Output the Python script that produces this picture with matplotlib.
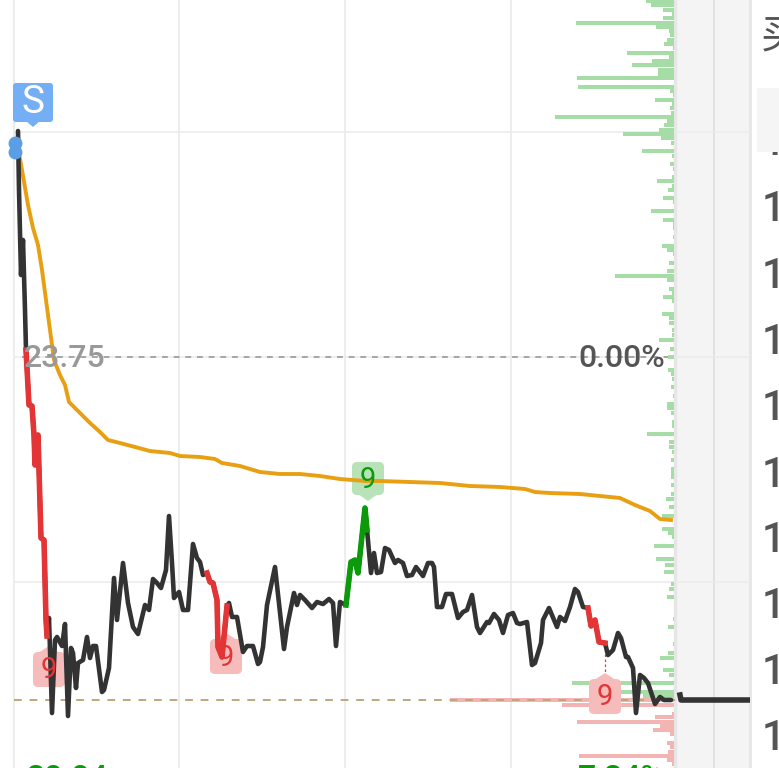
import matplotlib
matplotlib.use("Agg")
import matplotlib.pyplot as plt
from matplotlib.patches import FancyBboxPatch, Polygon, Rectangle

W, H = 779, 768

# time offset from the open (chart units) and price, 23.75 is the zero line
line_t = [4, 5, 7, 9, 11, 12, 15, 18, 20, 21, 24, 27, 30, 32, 33, 35, 38, 41, 43, 48,
          51, 54, 57, 59, 62, 64, 69, 73, 76, 79, 82, 88, 90, 95, 100, 103, 109, 114, 119, 124,
          131, 135, 139, 143, 147, 152, 155, 158, 160, 165, 169, 174, 179, 183, 186, 189, 193, 196, 199, 203,
          204, 208, 213, 215, 218, 223, 229, 233, 239, 244, 246, 249, 253, 261, 270, 273, 280, 283, 286, 291,
          298, 303, 309, 315, 319, 322, 326, 332, 337, 341, 344, 351, 353, 357, 360, 363, 367, 371, 375, 381,
          384, 389, 393, 398, 402, 409, 414, 418, 420, 423, 428, 432, 438, 444, 449, 453, 458, 463, 466, 473,
          475, 480, 485, 489, 494, 499, 503, 506, 513, 518, 521, 527, 529, 535, 543, 546, 551, 556, 561, 564,
          569, 574, 577, 581, 585, 591, 594, 599, 604, 607, 612, 614, 619, 622, 626, 630, 634, 641, 646, 650, 657]
line_p = [26.01, 25.42, 24.57, 24.92, 24.22, 23.82, 23.27, 23.26, 22.97, 22.67, 22.97, 21.94, 21.92, 21.12, 20.96, 21.14, 20.19, 20.92, 20.95, 20.86,
          21.08, 20.16, 20.84, 20.79, 20.44, 20.69, 20.72, 20.95, 20.74, 20.86, 20.86, 20.40, 20.42, 20.64, 21.54, 21.12, 21.69, 21.29, 21.05, 20.98,
          21.27, 21.22, 21.53, 21.49, 21.44, 21.62, 22.16, 21.69, 21.34, 21.40, 21.22, 21.22, 21.88, 21.74, 21.70, 21.57, 21.59, 21.50, 21.49, 21.32,
          20.85, 20.75, 21.26, 21.29, 21.15, 21.15, 20.80, 20.86, 20.86, 20.68, 20.70, 20.85, 21.27, 21.65, 20.83, 21.05, 21.39, 21.27, 21.37, 21.32,
          21.24, 21.30, 21.28, 21.33, 21.29, 20.86, 21.30, 21.27, 21.70, 21.72, 21.59, 22.24, 22.02, 21.59, 21.79, 21.59, 21.60, 21.84, 21.82, 21.69,
          21.72, 21.69, 21.56, 21.57, 21.65, 21.56, 21.69, 21.69, 21.65, 21.25, 21.25, 21.38, 21.38, 21.14, 21.20, 21.22, 21.37, 21.05, 20.99, 21.10,
          21.09, 21.18, 21.12, 20.99, 21.17, 21.19, 21.09, 21.08, 21.10, 20.67, 20.69, 20.89, 21.12, 21.24, 21.05, 21.15, 21.11, 21.25, 21.43, 21.40,
          21.25, 21.24, 21.06, 21.12, 20.90, 20.89, 20.77, 20.82, 20.99, 20.94, 20.75, 20.75, 20.64, 20.19, 20.57, 20.54, 20.49, 20.28, 20.35, 20.32, 20.32]

# stretches of the price line that carry a signal
red_a_t = [12, 15, 18, 20, 21, 24, 27, 30, 32, 33]
red_a_p = [23.82, 23.27, 23.26, 22.97, 22.67, 22.97, 21.94, 21.92, 21.12, 20.96]
red_b_t = [193, 196, 199, 203, 204, 208, 213]
red_b_p = [21.59, 21.50, 21.49, 21.32, 20.85, 20.75, 21.26]
red_c_t = [574, 577, 581, 585, 591]
red_c_p = [21.24, 21.06, 21.12, 20.90, 20.89]
green_t = [332, 337, 341, 344, 351, 353]
green_p = [21.27, 21.70, 21.72, 21.59, 22.24, 22.02]

after_t = [666, 667, 736]
after_p = [20.37, 20.32, 20.32]

avg_t = [4, 8, 14, 19, 24, 28, 32, 36, 40, 46, 51, 55, 61, 68, 76, 86, 94, 106, 121, 136, 156, 166, 186, 201, 208,
         226, 246, 266, 286, 306, 326, 351, 366, 396, 426, 456, 486, 511, 521, 536, 566, 586, 606, 621, 636, 646, 657]
avg_p = [25.84, 25.62, 25.27, 25.04, 24.87, 24.62, 24.32, 24.02, 23.72, 23.57, 23.47, 23.30, 23.24, 23.17, 23.09, 23.00, 22.92, 22.89, 22.85, 22.81, 22.79, 22.76, 22.75, 22.73, 22.69,
         22.66, 22.60, 22.58, 22.58, 22.56, 22.53, 22.51, 22.51, 22.50, 22.49, 22.46, 22.45, 22.43, 22.40, 22.39, 22.38, 22.36, 22.34, 22.27, 22.21, 22.13, 22.12]

# volume by price
ask_p = [27.31, 27.27, 27.22, 27.18, 27.14, 27.09, 27.05, 27.01, 26.97, 26.92, 26.88, 26.84, 26.79, 26.75, 26.71, 26.67, 26.62, 26.58, 26.54, 26.45,
         26.41, 26.37, 26.32, 26.28, 26.24, 26.19, 26.15, 26.11, 26.07, 26.02, 25.98, 25.94, 25.89, 25.81, 25.76, 25.68, 25.63, 25.55, 25.51, 25.46,
         25.42, 25.34, 25.30, 25.21, 25.12, 25.08, 25.04, 24.95, 24.86, 24.82, 24.78, 24.69, 24.61, 24.56, 24.52, 24.43, 24.39, 24.35, 24.31, 24.18,
         24.14, 24.09, 24.02, 23.97, 23.92, 23.83, 23.75, 23.62, 23.58, 23.53, 23.45, 23.36, 23.28, 23.24, 23.19, 23.10, 23.06, 22.98, 22.90, 22.85,
         22.80, 22.72, 22.63, 22.59, 22.55, 22.47, 22.38, 22.33, 22.25, 22.16, 22.03, 21.99, 21.95, 21.86, 21.73, 21.67, 21.60, 21.48, 21.43, 21.35,
         21.13, 21.05, 20.88, 20.79, 20.74, 20.62, 20.57, 20.49, 20.40, 20.36]
ask_v = [28, 23, 11, 2, 11, 98, 18, 5, 4, 7, 10, 1, 47, 5, 22, 42, 16, 16, 97, 96,
         4, 1, 19, 2, 4, 3, 119, 7, 10, 15, 51, 13, 3, 32, 2, 4, 1, 2, 17, 2,
         6, 11, 1, 23, 11, 1, 1, 1, 12, 7, 1, 5, 7, 59, 7, 5, 2, 11, 2, 12,
         5, 5, 2, 2, 15, 4, 6, 6, 3, 2, 3, 1, 7, 7, 3, 2, 2, 27, 5, 5,
         2, 3, 3, 3, 3, 3, 3, 8, 5, 12, 12, 6, 2, 20, 18, 9, 10, 3, 5, 7,
         1, 6, 1, 6, 14, 11, 5, 102, 59, 31]
bid_p = [20.32, 20.27, 20.18, 20.15, 20.10, 20.06, 20.02, 19.98, 19.89, 19.85, 19.80, 19.76, 19.72, 19.68]
bid_v = [224, 112, 2, 19, 97, 14, 21, 4, 7, 4, 6, 95, 7, 2]

grid_prices = [26.00, 23.75, 21.50]
grid_times = [0, 165, 331, 497]
side_prices = [25.89, 25.23, 24.56, 23.90, 23.24, 22.57, 21.92, 21.26, 20.60, 19.94]
session_end = 660
chart_end = 736
base_price = 20.32

BLACK = "#333333"
RED = "#e33535"
GREEN = "#0a9a0a"
ORANGE = "#e8a012"
RED_TAG = "#f6bcbc"
GREEN_TAG = "#b8e3b8"
BLUE_TAG = "#74aef5"


def rounded(ax, x0, y0, w, h, color, z, r=5):
    # w is in chart units, h in price, 0.01 price is one unit across
    box = FancyBboxPatch((x0 + r, y0 + r * 0.01), w - 2 * r, h - 2 * r * 0.01,
                         boxstyle=f"round,pad={r},rounding_size={r}",
                         mutation_aspect=0.01, fc=color, ec="none", zorder=z)
    ax.add_patch(box)
    box.set_clip_on(False)


plt.rcParams["font.family"] = ["Roboto", "Noto Sans CJK SC", "DejaVu Sans"]
fig = plt.figure(figsize=(W / 100, H / 100), dpi=100)
fig.patch.set_facecolor("white")
ax = fig.add_axes([14 / W, 0, chart_end / W, 1])
ax.set_xlim(0, chart_end)
ax.set_ylim(27.32 - H / 100, 27.32)
ax.axis("off")

ax.add_patch(Rectangle((session_end, 19), chart_end - session_end, 9, fc="#f4f4f4", ec="none", zorder=0))
for t in grid_times:
    ax.plot([t, t], [19.6, 27.32], color="#e8e8e8", lw=1.1, zorder=1, clip_on=False)
ax.plot([session_end + 1, session_end + 1], [19.6, 27.32], color="#e6e6e6", lw=2.4, zorder=1)
ax.plot([session_end + 40, session_end + 40], [19.6, 27.32], color="#dcdcdc", lw=1.1, zorder=1)
ax.plot([chart_end, chart_end], [19.6, 27.32], color="#e6e6e6", lw=2, zorder=1, clip_on=False)
for p in grid_prices:
    ax.plot([0, chart_end], [p, p], color="#ebebeb", lw=1.1, zorder=1)

ax.barh(ask_p, ask_v, left=[session_end - v for v in ask_v], height=0.036, color="#a6dca6", zorder=2)
ax.barh(bid_p, bid_v, left=[session_end - v for v in bid_v], height=0.036, color="#f3b4b4", zorder=2)

ax.plot([8, 654], [23.75, 23.75], color="#999999", lw=1.2, dashes=(3.5, 3.5), zorder=3)
ax.plot([0, 672], [base_price, base_price], color="#bfa77a", lw=1.4, dashes=(4, 4), zorder=3)

for x0, y0 in [(19, 20.45), (196, 20.58), (575, 20.18)]:
    rounded(ax, x0, y0, 32, 0.35, RED_TAG, 5)
    ax.add_patch(Polygon([(x0 + 5, y0 + 0.34), (x0 + 16, y0 + 0.41), (x0 + 27, y0 + 0.34)], fc=RED_TAG, ec="none", zorder=5))
rounded(ax, 338, 22.37, 32, 0.33, GREEN_TAG, 5)
ax.add_patch(Polygon([(344, 22.38), (354, 22.31), (364, 22.38)], fc=GREEN_TAG, ec="none", zorder=5))
ax.plot([591, 591], [20.88, 20.58], color="#e04040", lw=0.9, dashes=(2, 2), zorder=4)

ax.plot(avg_t, avg_p, color=ORANGE, lw=2.8, zorder=6, solid_joinstyle="round")
ax.plot(line_t, line_p, color=BLACK, lw=3.3, zorder=7, solid_joinstyle="round", solid_capstyle="round")
ax.plot(after_t, after_p, color=BLACK, lw=4, zorder=7)
for t, p in [(red_a_t, red_a_p), (red_b_t, red_b_p), (red_c_t, red_c_p)]:
    ax.plot(t, p, color=RED, lw=4, zorder=8, solid_joinstyle="round")
ax.plot(green_t, green_p, color=GREEN, lw=4, zorder=8, solid_joinstyle="round")

rounded(ax, -1, 26.10, 40, 0.39, BLUE_TAG, 9, r=3)
tip = Polygon([(12, 26.11), (19, 26.05), (26, 26.11)], fc=BLUE_TAG, ec="none", zorder=9)
ax.add_patch(tip)
ax.text(19, 26.30, "S", color="white", fontsize=28, ha="center", va="center", zorder=10)
ax.plot([1, 1], [25.89, 25.80], ls="", marker="o", ms=10, color="#5a9ee6", mec="none", zorder=9, clip_on=False)

for t, p, c in [(34.5, 20.62, RED), (212, 20.74, RED), (591, 20.35, RED), (354, 22.52, GREEN)]:
    ax.text(t, p, "9", color=c, fontsize=21, ha="center", va="center", zorder=10)

ax.text(10, 23.74, "23.75", color="#999999", fontsize=23, fontweight="medium", ha="left", va="center", zorder=9)
ax.text(651, 23.74, "0.00%", color="#555555", fontsize=23, fontweight="medium", ha="right", va="center", zorder=9)

# change labels that run off the bottom edge
ax.text(13, 19.68, "30.04", color=GREEN, fontsize=23, fontweight="medium", ha="left", va="top", zorder=9)
ax.text(651, 19.68, "7.34%", color=GREEN, fontsize=23, fontweight="medium", ha="right", va="top", zorder=9)

# order book column, cut off by the right edge
ax.text(747, 26.96, "买", color="#555555", fontsize=29, ha="left", va="center", clip_on=False)
for p in side_prices:
    ax.text(748, p, "1", color="#555555", fontsize=30, fontweight="medium", ha="left", va="center", clip_on=False, zorder=1)
panel = Rectangle((743, 25.80), 40, 0.64, fc="#f5f5f5", ec="none", zorder=2)
ax.add_patch(panel)
panel.set_clip_on(False)

fig.savefig("out.png", dpi=100)
